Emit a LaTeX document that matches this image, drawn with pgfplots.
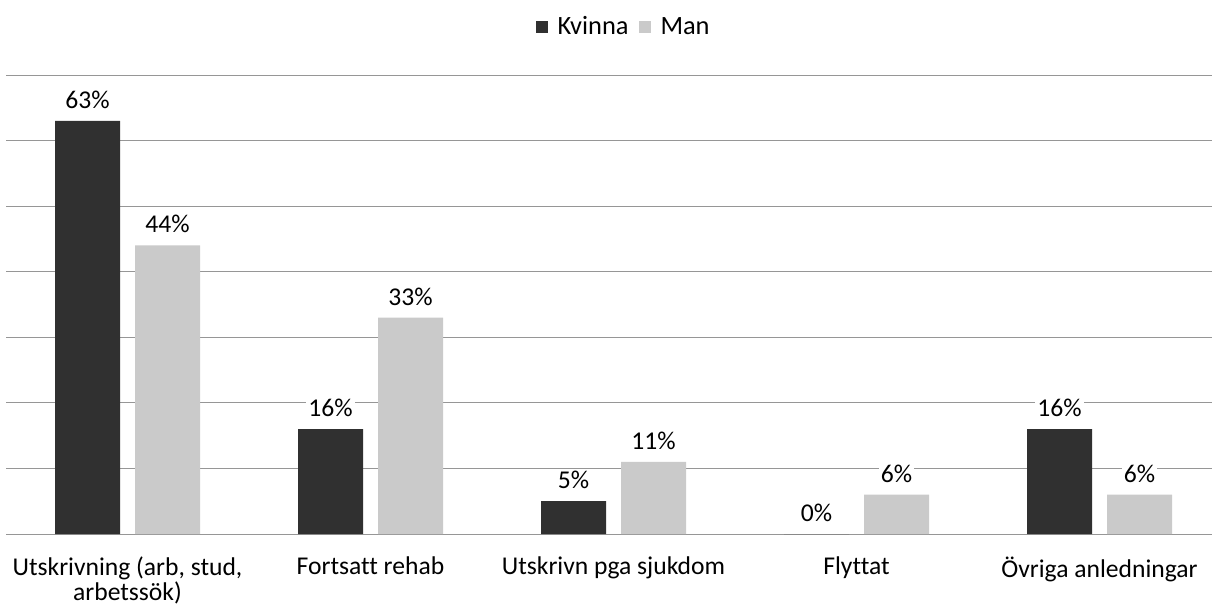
\documentclass[border=0pt]{standalone}
\usepackage{fontspec}
\setmainfont{Carlito}[Ligatures=NoCommon]
\usepackage{pgfplots}
\pgfplotsset{compat=1.18}
\definecolor{kvinna}{RGB}{48,48,48}
\definecolor{man}{RGB}{202,202,202}
\definecolor{gridgray}{RGB}{150,150,150}

\begin{document}
\begin{tikzpicture}
\begin{axis}[
    at={(0,0)}, anchor=south west,
    scale only axis,
    width=603pt, height=229.5pt,
    ybar=7.5pt, bar width=32.5pt,
    xmin=-0.5, xmax=4.463,
    ymin=0, ymax=70,
    axis line style={draw=none},
    xtick={0,1,2,3,4},
    xticklabels={{Utskrivning (arb, stud,\\arbetssök)},{Fortsatt rehab},{Utskrivn pga sjukdom},{Flyttat},{Övriga anledningar}},
    xticklabel style={align=center, font=\fontsize{12.8}{12.5}\selectfont, yshift=-8pt},
    ytick={0,10,...,70}, yticklabels={},
    major tick length=0pt,
    ymajorgrids,
    grid style={gridgray, line width=0.5pt},
    /pgf/number format/assume math mode=true,
    nodes near coords={\pgfmathprintnumber{\pgfplotspointmeta}\%},
    every node near coord/.append style={font=\fontsize{12.8}{13}\selectfont, fill=white, inner sep=1pt, anchor=south, yshift=5pt},
    legend style={draw=none, at={(0.513,1.104)}, anchor=center, legend columns=2,
        font=\fontsize{13.2}{13}\selectfont, column sep=3pt, nodes={inner xsep=2pt}},
    legend image code/.code={\draw[#1, draw=none] (0pt,-3pt) rectangle (6pt,3pt);},
]
\addplot[fill=kvinna, draw=none] coordinates {(0,63) (1,16) (2,5) (3,0) (4,16)};
\addlegendentry{Kvinna}
\addplot[fill=man, draw=none] coordinates {(0,44) (1,33) (2,11) (3,6) (4,6)};
\addlegendentry{Man}
\end{axis}
\pgfresetboundingbox
\path[use as bounding box] (-3pt,-36pt) rectangle (605.5pt,267pt);
\end{tikzpicture}
\end{document}
